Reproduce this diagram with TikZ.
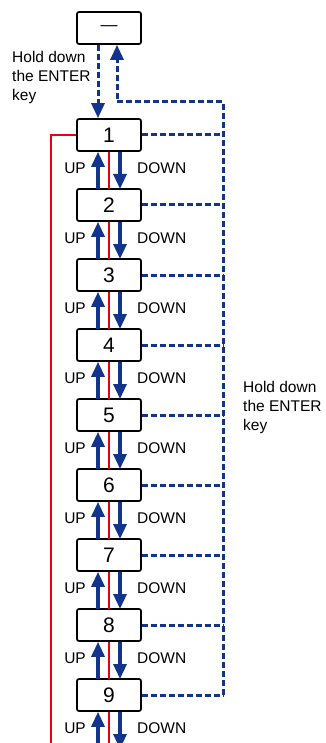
\documentclass[tikz,border=0pt]{standalone}
\usepackage{fontspec}
\setmainfont{Liberation Sans}
\usetikzlibrary{arrows.meta}
\definecolor{keyblue}{RGB}{18,52,140}
\definecolor{keyred}{RGB}{230,0,18}

\begin{document}
\begin{tikzpicture}[x=1pt,y=-1pt,>={Triangle[width=13pt,length=15pt]},
  key/.style={draw,line width=1.7pt,rounded corners=2pt,minimum width=64pt,
    minimum height=32pt,inner sep=0pt,font=\fontsize{21}{21}\selectfont},
  push/.style={->,keyblue,line width=3.3pt},
  hold/.style={keyblue,line width=3pt,dash pattern=on 6pt off 3pt},
  rail/.style={keyred,line width=2.5pt},
  lbl/.style={inner sep=0pt,font=\fontsize{15.5}{19}\selectfont,align=left}]
  \useasboundingbox(0,0)rectangle(325,743);
  \clip(0,0)rectangle(325,743);
  \node[key] (k0) at (109,28) {\fontsize{17}{17}\selectfont\textemdash};
  \foreach \i in {1,...,9}
    \node[key] (k\i) at (109,65+70*\i) {\i};
  \coordinate (r) at (223,102);
  \coordinate (b) at (51,750);
  \foreach \i in {1,...,9}
  {
    \coordinate (t\i) at (109,119+70*\i);
    \draw[rail](k\i.south)--(t\i);
    \draw[push]([xshift=-11pt]t\i)--([xshift=-11pt]k\i.south);
    \draw[push]([xshift=11pt]k\i.south)--([xshift=11pt]t\i);
    \node[lbl,anchor=east] (u\i) at (86,98+70*\i) {UP};
    \node[lbl,anchor=west] (d\i) at (137,98+70*\i) {DOWN};
    \draw[hold](k\i.east)--(k\i.east-|r);
  }
  \draw[rail](k1.west)-|(b);
  \draw[hold,->]([xshift=-11pt]k0.south)--([xshift=-11pt]k1.north);
  \draw[hold,->](k9.east-|r)--(r)-|([xshift=8pt]k0.south);
  \node[lbl,anchor=north west] (h1) at (12,51) {Hold down\\the ENTER\\key};
  \node[lbl,anchor=north west] (h2) at (243,381) {Hold down\\the ENTER\\key};
\end{tikzpicture}
\end{document}
